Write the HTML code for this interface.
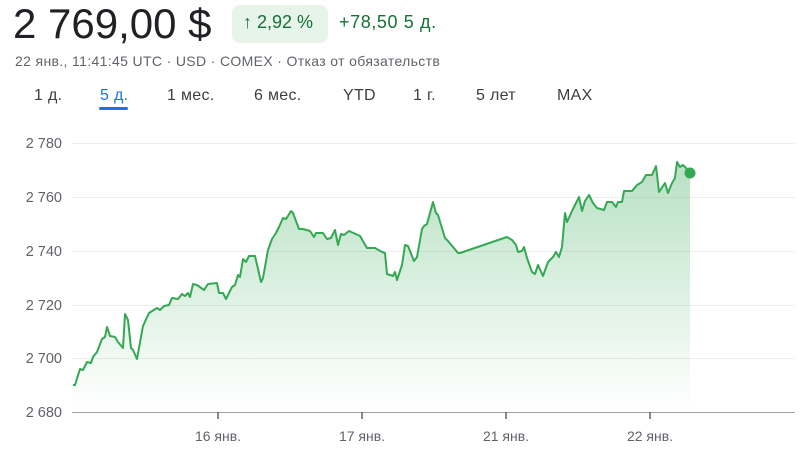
<!DOCTYPE html>
<html><head><meta charset="utf-8"><style>
body{margin:0;width:800px;height:449px;background:#fff;font-family:"Liberation Sans",Arial,sans-serif;overflow:hidden;position:relative}
.a{position:absolute;white-space:nowrap}
</style></head><body>
<div class="a" style="left:13px;top:0px;font-size:42px;color:#202124;">2 769,00 $</div>
<div class="a" style="left:232px;top:5px;width:96px;height:38px;background:#e6f4ea;border-radius:8px;"></div>
<div class="a" style="left:243px;top:12px;font-size:18px;color:#137333;">↑ 2,92 %</div>
<div class="a" style="left:339px;top:12px;font-size:18px;color:#137333;letter-spacing:0.6px;">+78,50 5 д.</div>
<div class="a" style="left:15px;top:53px;font-size:14px;color:#5f6368;letter-spacing:0.35px;">22 янв., 11:41:45 UTC · USD · COMEX · Отказ от обязательств</div>
<div class="a" style="top:87px;left:0;font-size:16px;color:#3c4043;letter-spacing:0.3px;">
<span class="a" style="left:34px">1 д.</span>
<span class="a" style="left:100px;color:#1a73e8">5 д.</span>
<span class="a" style="left:167px">1 мес.</span>
<span class="a" style="left:254px">6 мес.</span>
<span class="a" style="left:343px">YTD</span>
<span class="a" style="left:413px">1 г.</span>
<span class="a" style="left:476px">5 лет</span>
<span class="a" style="left:557px">MAX</span>
</div>
<div class="a" style="left:99px;top:107px;width:29px;height:3px;background:#1a73e8;border-radius:2px"></div>
<svg class="a" style="left:0;top:0" width="800" height="449">
<defs><linearGradient id="g" x1="0" y1="0" x2="0" y2="1"><stop offset="0" stop-color="#34a853" stop-opacity="0.35"/><stop offset="1" stop-color="#34a853" stop-opacity="0"/></linearGradient></defs>
<g stroke="#eeeeee" stroke-width="1">
<line x1="72" x2="795" y1="143.5" y2="143.5"/><line x1="72" x2="795" y1="197.5" y2="197.5"/><line x1="72" x2="795" y1="251.5" y2="251.5"/><line x1="72" x2="795" y1="305.5" y2="305.5"/><line x1="72" x2="795" y1="358.5" y2="358.5"/>
</g>
<g font-size="14.5" fill="#5f6368" text-anchor="end">
<text x="62" y="148">2 780</text><text x="62" y="202">2 760</text><text x="62" y="256">2 740</text><text x="62" y="310">2 720</text><text x="62" y="363">2 700</text><text x="62" y="417">2 680</text>
</g>
<polygon fill="url(#g)" points="73,385 75,385 80,369 83,370 87,362 91,363 93,357 97,352 102,339 105,337 107,327 110,336 115,337 118,342 123,348 125,314 128,320 131,348 133,350 137,359 143,326 149,313 157,308 160,310 164,306 169,305 172,298 178,299 182,294 185,296 188,293 190,297 193,284 197,285 204,290 208,284 217,283 219,293 223,293 226,299 232,287 235,285 238,275 240,277 243,259 246,262 249,256 255,256 261,282 263,278 268,250 272,239 276,233 279,227 283,218 286,219 291,211 293,213 299,229 303,229 310,231 314,237 316,233 323,233 327,239 331,238 335,230 338,245 341,234 344,235 349,231 360,236 367,248 375,248 382,252 385,253 387,274 393,276 395,272 397,280 402,265 405,245 408,246 414,261 417,257 422,229 424,226 427,224 433,202 436,213 438,215 445,238 448,241 458,253 460,253 507,237 512,240 516,245 518,252 522,251 524,247 527,258 532,272 535,274 538,265 543,276 548,262 553,257 556,252 559,257 562,247 565,213 567,222 573,209 579,197 582,211 585,201 589,195 593,203 597,208 604,210 607,202 612,202 616,207 618,202 622,202 624,191 632,191 637,185 642,182 646,175 652,175 656,166 659,192 665,183 668,193 672,183 675,178 677,162 680,167 683,165 686,168 690,173 690,412 73,412"/>
<polyline fill="none" stroke="#34a853" stroke-width="2" stroke-linejoin="round" points="73,385 75,385 80,369 83,370 87,362 91,363 93,357 97,352 102,339 105,337 107,327 110,336 115,337 118,342 123,348 125,314 128,320 131,348 133,350 137,359 143,326 149,313 157,308 160,310 164,306 169,305 172,298 178,299 182,294 185,296 188,293 190,297 193,284 197,285 204,290 208,284 217,283 219,293 223,293 226,299 232,287 235,285 238,275 240,277 243,259 246,262 249,256 255,256 261,282 263,278 268,250 272,239 276,233 279,227 283,218 286,219 291,211 293,213 299,229 303,229 310,231 314,237 316,233 323,233 327,239 331,238 335,230 338,245 341,234 344,235 349,231 360,236 367,248 375,248 382,252 385,253 387,274 393,276 395,272 397,280 402,265 405,245 408,246 414,261 417,257 422,229 424,226 427,224 433,202 436,213 438,215 445,238 448,241 458,253 460,253 507,237 512,240 516,245 518,252 522,251 524,247 527,258 532,272 535,274 538,265 543,276 548,262 553,257 556,252 559,257 562,247 565,213 567,222 573,209 579,197 582,211 585,201 589,195 593,203 597,208 604,210 607,202 612,202 616,207 618,202 622,202 624,191 632,191 637,185 642,182 646,175 652,175 656,166 659,192 665,183 668,193 672,183 675,178 677,162 680,167 683,165 686,168 690,173"/>
<circle cx="690" cy="173" r="5.5" fill="#34a853"/>
<line x1="72" x2="795" y1="412.5" y2="412.5" stroke="#9aa0a6" stroke-width="1"/>
<g stroke="#5f6368" stroke-width="1.5"><line x1="218" x2="218" y1="412" y2="419"/><line x1="362" x2="362" y1="412" y2="419"/><line x1="506" x2="506" y1="412" y2="419"/><line x1="650" x2="650" y1="412" y2="419"/></g>
<g font-size="14" fill="#5f6368" text-anchor="middle">
<text x="218" y="441">16 янв.</text><text x="362" y="441">17 янв.</text><text x="506" y="441">21 янв.</text><text x="650" y="441">22 янв.</text>
</g>
</svg>
</body></html>
